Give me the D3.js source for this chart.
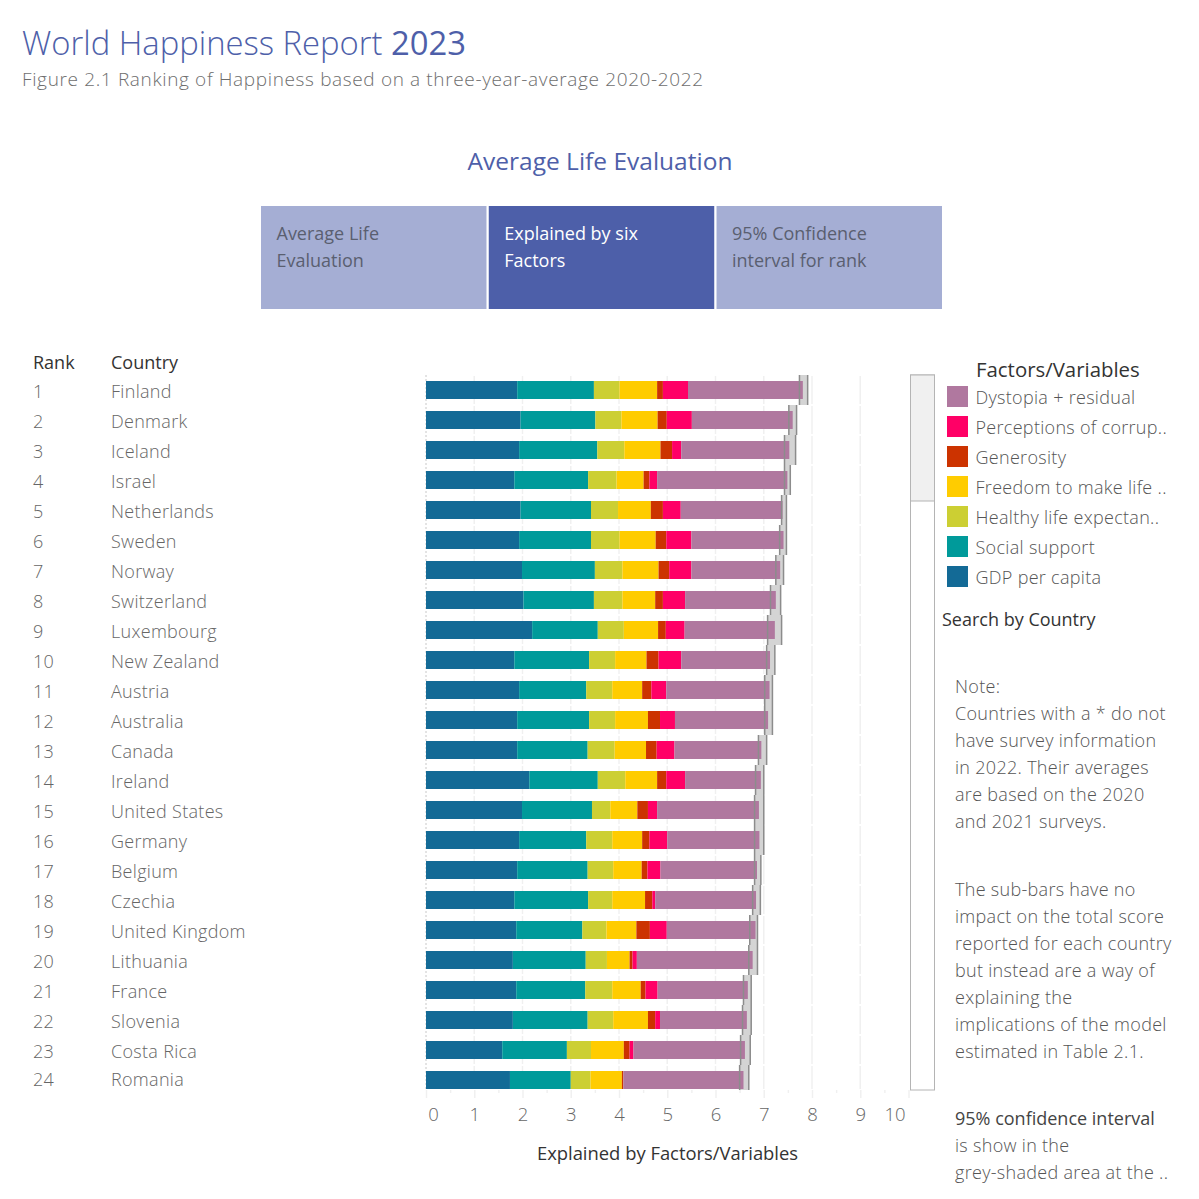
<!DOCTYPE html>
<html>
<head>
<meta charset="utf-8">
<script src="https://cdnjs.cloudflare.com/ajax/libs/d3/7.8.5/d3.min.js"></script>
<style>
html, body { margin: 0; padding: 0; background: #fff; }
svg { display: block; font-family: "Open Sans", sans-serif; }
</style>
</head>
<body>
<div id="chart"></div>
<script>
// Data
const countries = ["Finland", "Denmark", "Iceland", "Israel", "Netherlands", "Sweden", "Norway", "Switzerland", "Luxembourg", "New Zealand", "Austria", "Australia", "Canada", "Ireland", "United States", "Germany", "Belgium", "Czechia", "United Kingdom", "Lithuania", "France", "Slovenia", "Costa Rica", "Romania"];
const gdp = [1.89, 1.96, 1.93, 1.83, 1.96, 1.93, 1.99, 2.02, 2.20, 1.83, 1.93, 1.89, 1.89, 2.14, 1.99, 1.93, 1.89, 1.83, 1.87, 1.80, 1.87, 1.80, 1.58, 1.74];
const social = [1.59, 1.55, 1.62, 1.53, 1.46, 1.49, 1.51, 1.46, 1.36, 1.55, 1.39, 1.49, 1.46, 1.42, 1.45, 1.39, 1.46, 1.53, 1.37, 1.51, 1.43, 1.55, 1.34, 1.26];
const health = [0.53, 0.54, 0.56, 0.59, 0.56, 0.59, 0.57, 0.59, 0.54, 0.54, 0.54, 0.54, 0.56, 0.57, 0.38, 0.54, 0.53, 0.50, 0.50, 0.44, 0.56, 0.53, 0.50, 0.41];
const freedom = [0.78, 0.75, 0.75, 0.56, 0.68, 0.75, 0.75, 0.68, 0.71, 0.65, 0.62, 0.68, 0.65, 0.66, 0.56, 0.62, 0.59, 0.68, 0.62, 0.47, 0.59, 0.72, 0.68, 0.65];
const generosity = [0.12, 0.19, 0.24, 0.12, 0.25, 0.22, 0.22, 0.16, 0.16, 0.25, 0.19, 0.25, 0.22, 0.19, 0.22, 0.15, 0.12, 0.15, 0.28, 0.06, 0.10, 0.15, 0.12, 0.03];
const corruption = [0.52, 0.52, 0.19, 0.16, 0.37, 0.52, 0.46, 0.46, 0.39, 0.47, 0.31, 0.31, 0.37, 0.39, 0.19, 0.37, 0.27, 0.06, 0.35, 0.09, 0.25, 0.10, 0.08, 0];
const dystopia = [2.38, 2.09, 2.24, 2.70, 2.11, 1.91, 1.84, 1.88, 1.87, 1.84, 2.14, 1.93, 1.80, 1.57, 2.11, 1.91, 2.00, 2.09, 1.84, 2.40, 1.87, 1.80, 2.31, 2.49];
const ciLow = [7.74, 7.52, 7.43, 7.43, 7.37, 7.33, 7.25, 7.14, 7.08, 7.06, 7.02, 7.02, 6.89, 6.83, 6.81, 6.81, 6.81, 6.77, 6.71, 6.69, 6.58, 6.56, 6.52, 6.50];
const ciHigh = [7.91, 7.68, 7.66, 7.55, 7.47, 7.47, 7.41, 7.35, 7.37, 7.23, 7.18, 7.18, 7.06, 7.00, 7.00, 7.00, 6.94, 6.93, 6.87, 6.87, 6.74, 6.74, 6.72, 6.69];
const xTicks = [0, 1, 2, 3, 4, 5, 6, 7, 8, 9, 10];
const xMinorTicks = [0.5, 1.5, 2.5, 3.5, 4.5, 5.5, 6.5, 7.5, 8.5, 9.5];

const factorNames = ["GDP per capita", "Social support", "Healthy life expectan..", "Freedom to make life ..", "Generosity", "Perceptions of corrup..", "Dystopia + residual"];
const factorColors = ["#136a96", "#009a9a", "#cccf33", "#ffcc00", "#cc3300", "#ff0066", "#b0789f"];
const factorSeries = [gdp, social, health, freedom, generosity, corruption, dystopia];

const tabs = [["Average Life", "Evaluation"], ["Explained by six", "Factors"], ["95% Confidence", "interval for rank"]];
const noteTop = ["Note:", "Countries with a * do not", "have survey information", "in 2022. Their averages", "are based on the 2020", "and 2021 surveys."];
const noteBottom = ["The sub-bars have no", "impact on the total score", "reported for each country", "but instead are a way of", "explaining the", "implications of the model", "estimated in Table 2.1."];

const svg = d3.select("#chart").append("svg").attr("width", 1199).attr("height", 1199);

const x = d3.scaleLinear().domain([0, 10]).range([426, 908.5]);
const y = d3.scaleBand().domain(countries).range([375, 1095]);
const barHeight = 18;
const plotBottom = 1090;
const rowBottom = d => Math.min(y(d) + y.bandwidth(), plotBottom);

const label = (sel, tx, ty, str, size, fill) => sel.append("text")
  .attr("x", tx).attr("y", ty).attr("font-size", size).attr("fill", fill).text(str);
// thin text, spaced out a little to get the width of the original font
const thin = (sel, tx, ty, str, fill) => label(sel, tx, ty, str, 18, fill)
  .attr("font-weight", 300).attr("letter-spacing", 0.3);

// Header
label(svg, 22, 55, "World Happiness Report ", 32.8, "#4e5fa9").attr("font-weight", 300)
  .append("tspan").attr("font-weight", 500).text("2023");
label(svg, 22, 86, "Figure 2.1 Ranking of Happiness based on a three-year-average 2020-2022", 19, "#6e6e6e")
  .attr("font-weight", 300).attr("letter-spacing", 0.64);
label(svg, 600, 170, "Average Life Evaluation", 24.5, "#4e5fa9").attr("text-anchor", "middle");

// Tabs
const tabX = d3.scaleBand().domain([0, 1, 2]).range([261, 942]).paddingInner(0.01);
tabs.forEach((lines, i) => {
  const active = i === 1;
  svg.append("rect").attr("x", tabX(i)).attr("y", 206).attr("width", tabX.bandwidth()).attr("height", 103)
    .attr("fill", active ? "#4d5fa9" : "#a5aed4");
  lines.forEach((t, j) => label(svg, tabX(i) + 15.5, 240 + j * 27, t, 18, active ? "#fff" : "#5a5f70"));
});

// Column headers and row labels
label(svg, 33, 369, "Rank", 18, "#333");
label(svg, 111, 369, "Country", 18, "#333");
countries.forEach((c, i) => {
  const cy = y(c) + y.bandwidth() / 2 + 8 - (i === 23 ? 2 : 0);
  thin(svg, 33, cy, String(i + 1), "#666");
  thin(svg, 111, cy, c, "#666");
});

// Gridlines, one short segment per row
const gridRows = svg.append("g");
xTicks.slice(1, 10).forEach(t => {
  countries.forEach(c => {
    gridRows.append("line").attr("x1", x(t)).attr("x2", x(t))
      .attr("y1", y(c) + 1).attr("y2", rowBottom(c) - 1)
      .attr("stroke", "#f0f0f0").attr("stroke-width", 1.5);
  });
});
svg.append("line").attr("x1", x(0)).attr("x2", x(0)).attr("y1", 375).attr("y2", plotBottom)
  .attr("stroke", "#c8c8c8").attr("stroke-width", 1).attr("stroke-dasharray", "2 2");

// Confidence band behind the bars
svg.append("g").selectAll("rect").data(countries).join("rect")
  .attr("x", (d, i) => x(ciLow[i])).attr("y", d => y(d))
  .attr("width", (d, i) => x(ciHigh[i]) - x(ciLow[i])).attr("height", d => rowBottom(d) - y(d))
  .attr("fill", "#d4d4d4");

// Stacked bars
const rows = countries.map((c, i) => {
  const row = { country: c };
  factorNames.forEach((n, k) => { row[n] = factorSeries[k][i]; });
  return row;
});
const stacked = d3.stack().keys(factorNames)(rows);
svg.append("g").selectAll("g").data(stacked).join("g")
  .attr("fill", (d, k) => factorColors[k])
  .selectAll("rect").data(d => d).join("rect")
  .attr("x", d => x(d[0]))
  .attr("y", d => y(d.data.country) + (y.bandwidth() - barHeight) / 2)
  .attr("width", d => x(d[1]) - x(d[0]))
  .attr("height", barHeight);

// Confidence edges on top
[ciLow, ciHigh].forEach(vals => {
  svg.append("g").selectAll("line").data(countries).join("line")
    .attr("x1", (d, i) => x(vals[i])).attr("x2", (d, i) => x(vals[i]))
    .attr("y1", d => y(d)).attr("y2", d => rowBottom(d))
    .attr("stroke", "#8c8c8c").attr("stroke-width", 1.5);
});

// X axis, minor marks first
const minorAxis = svg.append("g").attr("transform", `translate(0,${plotBottom})`)
  .call(d3.axisBottom(x).tickValues(xMinorTicks).tickSize(3).tickFormat(""));
minorAxis.select(".domain").remove();
minorAxis.selectAll("line").attr("stroke", "#f0f0f0").attr("stroke-width", 1.5);

const axis = svg.append("g").attr("transform", `translate(0,${plotBottom})`)
  .call(d3.axisBottom(x).tickValues(xTicks).tickSize(8).tickPadding(10));
axis.select(".domain").remove();
axis.selectAll("line").attr("stroke", "#f0f0f0").attr("stroke-width", 1.5);
axis.selectAll("text").attr("font-size", 18.5).attr("font-family", "Open Sans, sans-serif")
  .attr("font-weight", 300).attr("fill", "#666")
  .attr("dx", d => d === 0 ? 7 : d === 10 ? -14 : 0);
label(svg, 667.5, 1160, "Explained by Factors/Variables", 18.4, "#333").attr("text-anchor", "middle");

// Scroll bar of the table
svg.append("rect").attr("x", 910.5).attr("y", 375).attr("width", 24).attr("height", 715)
  .attr("fill", "#fff").attr("stroke", "#b4b4b4").attr("stroke-width", 1);
svg.append("rect").attr("x", 910.5).attr("y", 375).attr("width", 24).attr("height", 126)
  .attr("fill", "#f0f0f0").attr("stroke", "#b4b4b4").attr("stroke-width", 1);

// Legend
label(svg, 976, 377, "Factors/Variables", 20.4, "#333");
factorNames.slice().reverse().forEach((n, i) => {
  svg.append("rect").attr("x", 947).attr("y", 386 + i * 30).attr("width", 21).attr("height", 21)
    .attr("fill", factorColors[6 - i]);
  thin(svg, 975.5, 404 + i * 30, n, "#555");
});
label(svg, 942, 626, "Search by Country", 18, "#333");

// Notes
noteTop.forEach((t, i) => thin(svg, 955, 693 + i * 27, t, "#555"));
noteBottom.forEach((t, i) => thin(svg, 955, 896 + i * 27, t, "#555"));
label(svg, 955, 1125, "95% confidence interval", 18, "#444").attr("font-weight", 500);
thin(svg, 955, 1152, "is show in the", "#555");
thin(svg, 955, 1179, "grey-shaded area at the ..", "#555");
</script>
</body>
</html>
